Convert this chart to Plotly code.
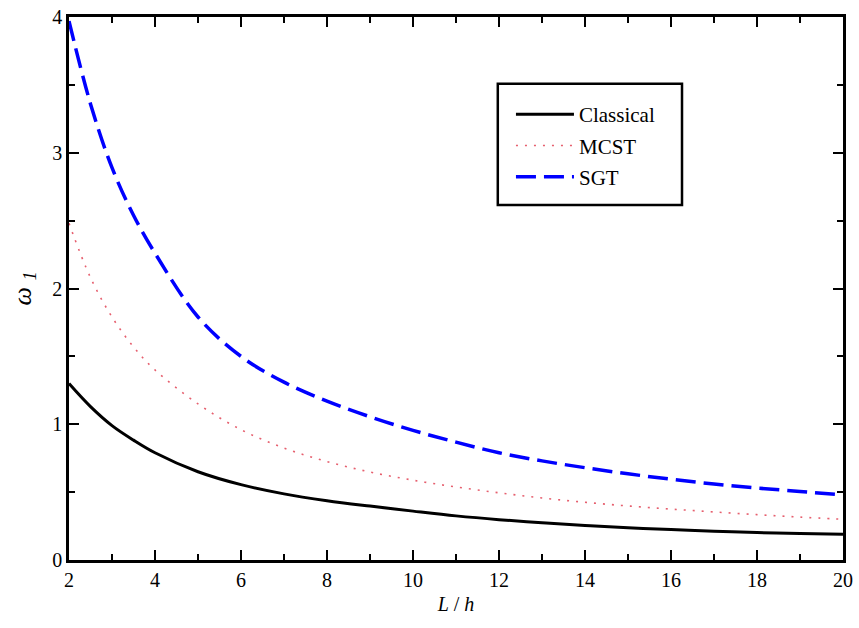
import plotly.graph_objects as go

# Data
L_vals = [2, 2.5, 3, 3.5, 4, 5, 6, 7, 8, 9, 10, 11, 12, 13, 14, 15, 16, 17, 18, 19, 20]
classical = [1.30, 1.13, 0.99, 0.883, 0.79, 0.65, 0.555, 0.487, 0.437, 0.397, 0.36, 0.325,
             0.297, 0.274, 0.255, 0.238, 0.224, 0.212, 0.202, 0.195, 0.189]
mcst = [2.48, 2.08, 1.79, 1.57, 1.40, 1.15, 0.96, 0.825, 0.725, 0.648, 0.588, 0.538,
        0.495, 0.457, 0.425, 0.398, 0.375, 0.354, 0.334, 0.316, 0.30]
sgt = [3.97, 3.36, 2.89, 2.54, 2.26, 1.79, 1.50, 1.31, 1.17, 1.055, 0.955, 0.868,
       0.79, 0.73, 0.68, 0.635, 0.595, 0.56, 0.53, 0.505, 0.48]

FONT = "Liberation Serif, Times New Roman, serif"

fig = go.Figure()
fig.add_trace(go.Scatter(x=L_vals, y=classical, mode="lines", name="Classical", legendgroup="a",
                         line=dict(color="black", width=3, shape="spline")))
fig.add_trace(go.Scatter(x=L_vals, y=mcst, mode="lines", name="MCST", legendgroup="b",
                         line=dict(color="rgb(230,95,110)", width=1.6, dash="2px,7px", shape="spline")))
fig.add_trace(go.Scatter(x=L_vals, y=sgt, mode="lines", name="SGT", legendgroup="c",
                         line=dict(color="blue", width=3.5, dash="20px,8px", shape="spline")))

axis_common = dict(showline=True, linecolor="black", linewidth=2.5, mirror="allticks",
                   ticks="inside", ticklen=10, tickwidth=2, tickcolor="black",
                   showgrid=False, zeroline=False,
                   tickfont=dict(family=FONT, size=20, color="black"))

fig.update_xaxes(range=[2, 20], dtick=2, tick0=2, automargin=False,
                 minor=dict(dtick=1, ticks="inside", ticklen=6, tickwidth=2, tickcolor="black"),
                 title=dict(text="<i>L</i> / <i>h</i>", font=dict(family=FONT, size=20, color="black"),
                            standoff=8),
                 **axis_common)
fig.update_yaxes(range=[0, 4], dtick=1, tick0=0, automargin=False,
                 minor=dict(dtick=0.5, ticks="inside", ticklen=6, tickwidth=2, tickcolor="black"),
                 title=dict(text="<i>ω</i> <sub><i>1</i></sub>",
                            font=dict(family=FONT, size=26, color="black"),
                            standoff=14),
                 **axis_common)

# legend frame (drawn as a rectangle in plot-area paper coordinates)
fig.add_shape(type="rect", xref="paper", yref="paper",
              x0=0.554, x1=0.792, y0=0.654, y1=0.877,
              line=dict(color="black", width=2.5), fillcolor="rgba(0,0,0,0)", layer="above")

fig.update_layout(
    width=859, height=628,
    margin=dict(l=69, r=16, t=17, b=68, autoexpand=False),
    plot_bgcolor="white", paper_bgcolor="white",
    font=dict(family=FONT, color="black"),
    legend=dict(x=0.571, y=0.858, xanchor="left", yanchor="top",
                borderwidth=0, bgcolor="rgba(0,0,0,0)",
                font=dict(family=FONT, size=21, color="black"),
                tracegroupgap=1, itemwidth=58),
)

fig.write_html("out.html")
